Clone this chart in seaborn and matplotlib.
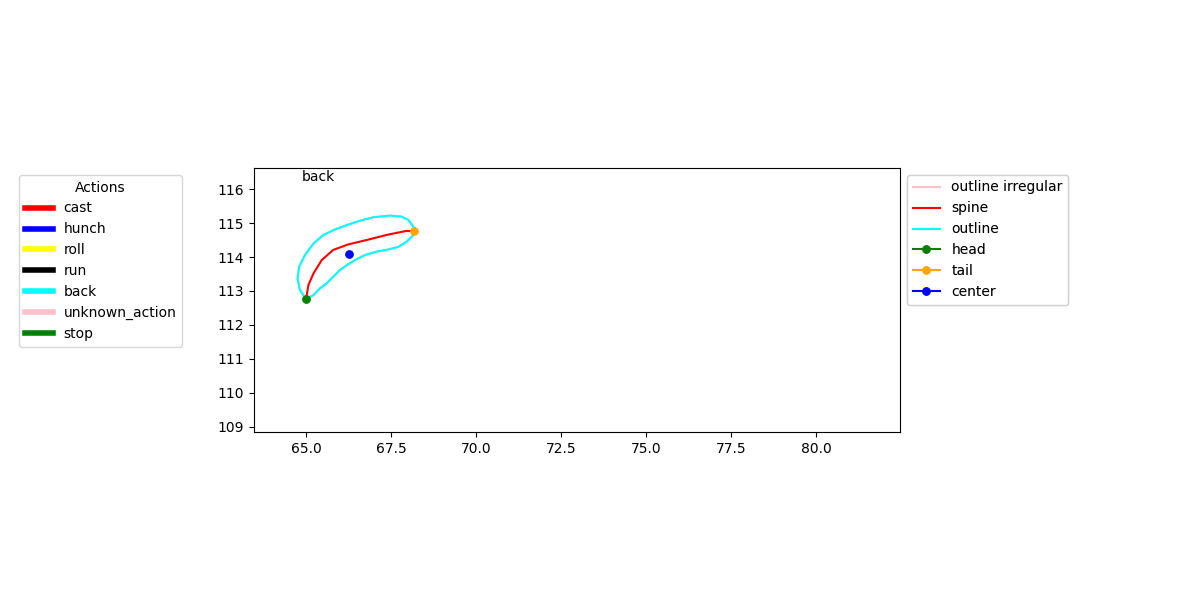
import matplotlib

matplotlib.use("Agg")
import matplotlib.pyplot as plt
import seaborn as sns
from matplotlib.lines import Line2D

# outline of the larva (data coords)
outline_x = [65.00, 64.82, 64.75, 64.80, 64.97, 65.22, 65.51, 65.85, 66.20, 66.59, 66.98,
             67.47, 67.81, 68.01, 68.16, 68.21, 68.11, 67.96, 67.72, 67.37, 67.08, 66.74,
             66.44, 66.20, 66.00, 65.80, 65.61, 65.41, 65.22, 65.00]
outline_y = [112.76, 113.03, 113.37, 113.72, 114.06, 114.40, 114.65, 114.81, 114.94, 115.07, 115.17,
             115.22, 115.19, 115.09, 114.89, 114.74, 114.60, 114.45, 114.30, 114.21, 114.16, 114.06,
             113.91, 113.76, 113.62, 113.42, 113.23, 113.08, 112.88, 112.76]

spine_x = [65.00, 65.07, 65.22, 65.46, 65.80, 66.24, 66.78, 67.37, 67.96, 68.18]
spine_y = [112.76, 113.18, 113.52, 113.91, 114.21, 114.37, 114.50, 114.65, 114.77, 114.76]

head = (65.00, 112.76)
tail = (68.18, 114.76)
center = (66.26, 114.09)

action_names = ["cast", "hunch", "roll", "run", "back", "unknown_action", "stop"]
action_colors = ["red", "blue", "yellow", "black", "cyan", "pink", "green"]
current_action = "back"

fig = plt.figure(figsize=(12, 6), dpi=100)
ax = fig.add_axes([0.2117, 0.28, 0.5383, 0.44])

sns.lineplot(x=outline_x, y=outline_y, sort=False, estimator=None, color="pink",
             linewidth=1.5, label="outline irregular", ax=ax)
sns.lineplot(x=spine_x, y=spine_y, sort=False, estimator=None, color="red",
             linewidth=1.5, label="spine", ax=ax)
sns.lineplot(x=outline_x, y=outline_y, sort=False, estimator=None, color="cyan",
             linewidth=1.5, label="outline", ax=ax)
for name, point, color in [("head", head, "green"), ("tail", tail, "orange"), ("center", center, "blue")]:
    sns.lineplot(x=[point[0]], y=[point[1]], marker="o", color=color, markeredgecolor=color,
                 markersize=5.5, label=name, ax=ax)

ax.set_xlim(63.47, 82.47)
ax.set_ylim(108.85, 116.62)
ax.text(64.88, 116.35, current_action, va="center", ha="left", fontsize=10)

parts_legend = ax.legend(loc="upper left", bbox_to_anchor=(1.0, 1.0))
ax.add_artist(parts_legend)

action_handles = [Line2D([0], [0], color=c, linewidth=4) for c in action_colors]
action_legend = ax.legend(action_handles, action_names, title="Actions", loc="upper right",
                          bbox_to_anchor=(-0.1006, 1.0))
ax.add_artist(parts_legend)

fig.savefig("out.png", dpi=100)
plt.close(fig)
